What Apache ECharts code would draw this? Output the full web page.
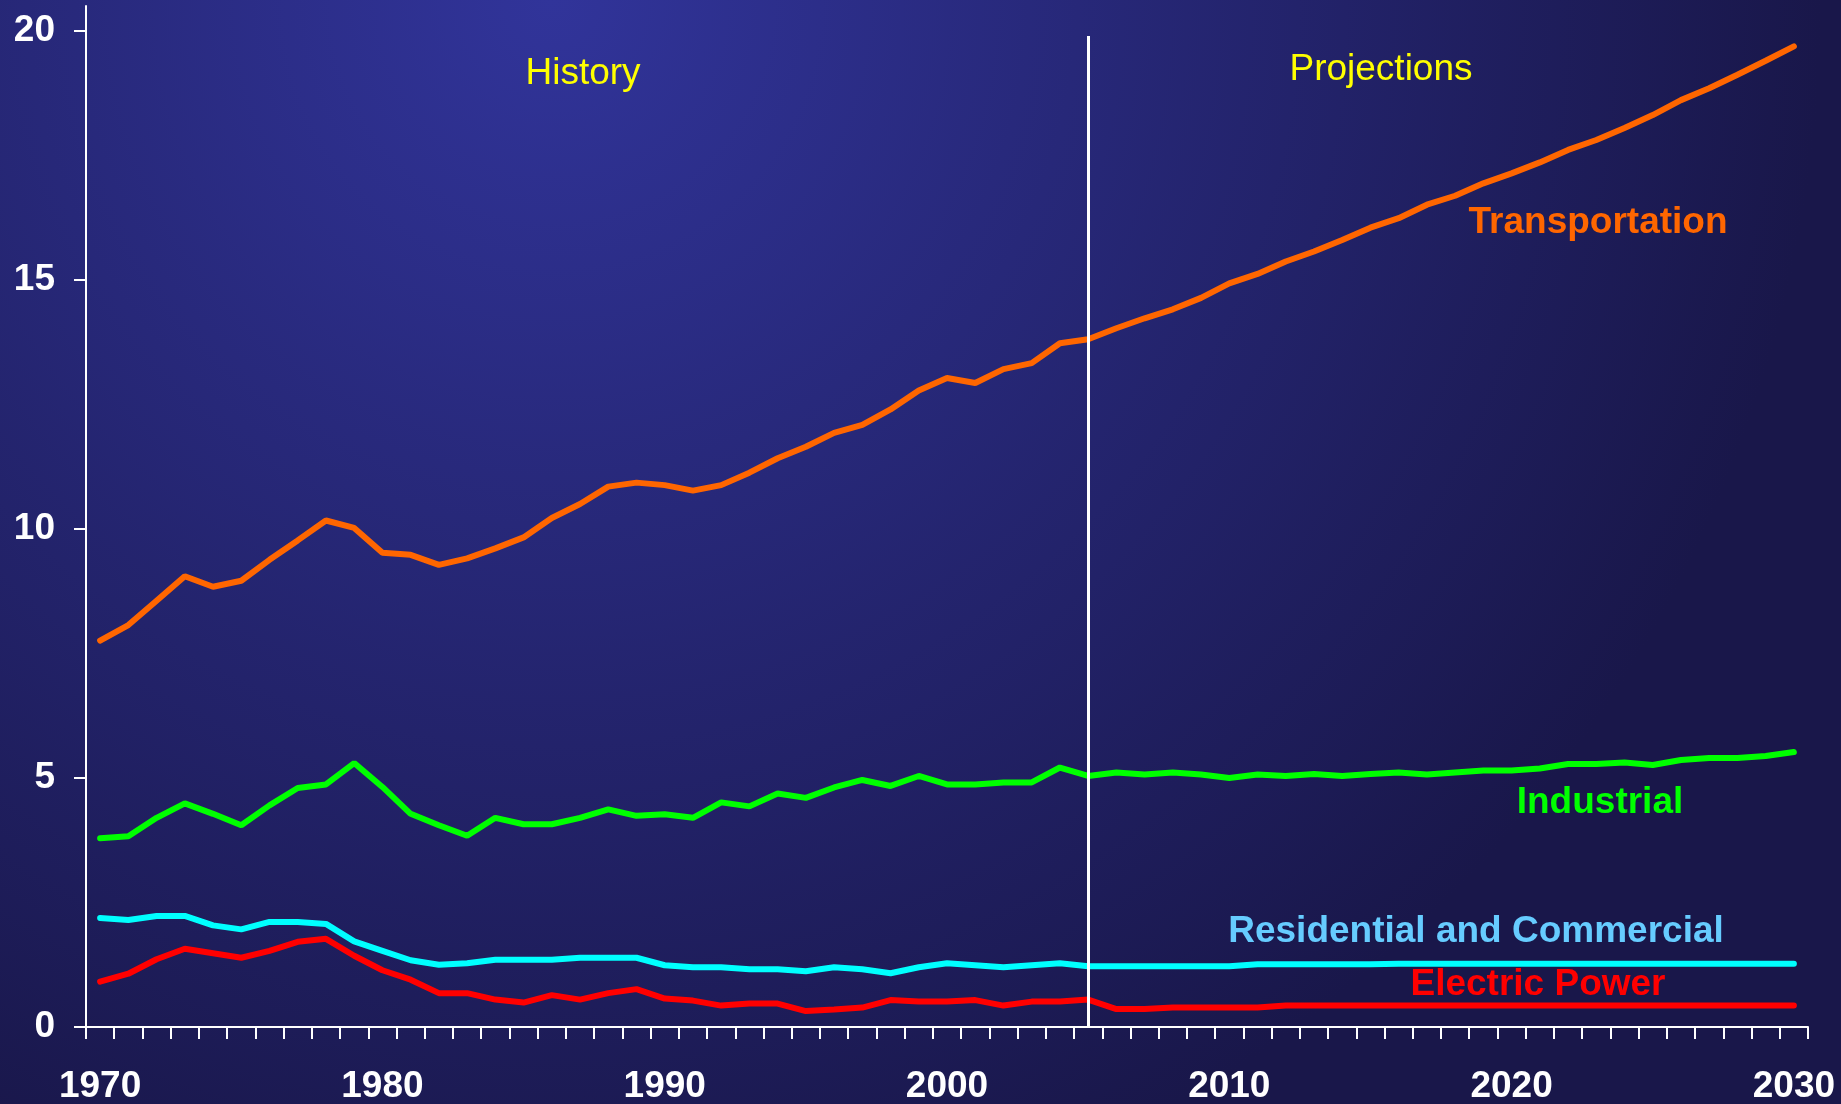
<!DOCTYPE html>
<html lang="en">
<head>
    <meta charset="UTF-8">
    <title>Energy consumption by sector</title>
    <script src="https://cdn.jsdelivr.net/npm/echarts@6/dist/echarts.min.js"></script>
    <style>
        html, body { margin: 0; padding: 0; }
    </style>
</head>
<body>
<div id="box" style="width: 1841px;height:1104px;"></div>
<script>
    // years on the x axis, one point per year
    var years = ['1970', '1971', '1972', '1973', '1974', '1975', '1976', '1977', '1978', '1979',
        '1980', '1981', '1982', '1983', '1984', '1985', '1986', '1987', '1988', '1989',
        '1990', '1991', '1992', '1993', '1994', '1995', '1996', '1997', '1998', '1999',
        '2000', '2001', '2002', '2003', '2004', '2005', '2006', '2007', '2008', '2009',
        '2010', '2011', '2012', '2013', '2014', '2015', '2016', '2017', '2018', '2019',
        '2020', '2021', '2022', '2023', '2024', '2025', '2026', '2027', '2028', '2029', '2030'];
    var yTicks = [0, 5, 10, 15, 20];
    var splitYear = '2005';

    var transportation = [7.76, 8.07, 8.56, 9.05, 8.84, 8.96, 9.38, 9.77, 10.17, 10.02,
        9.52, 9.48, 9.28, 9.41, 9.61, 9.83, 10.22, 10.50, 10.85, 10.93,
        10.88, 10.77, 10.88, 11.13, 11.42, 11.65, 11.93, 12.09, 12.40, 12.78,
        13.03, 12.93, 13.21, 13.33, 13.73, 13.81, 14.03, 14.23, 14.41, 14.64,
        14.93, 15.12, 15.37, 15.57, 15.80, 16.05, 16.24, 16.51, 16.69, 16.94,
        17.14, 17.36, 17.61, 17.81, 18.05, 18.31, 18.61, 18.85, 19.12, 19.40, 19.69];
    var industrial = [3.79, 3.83, 4.20, 4.49, 4.28, 4.05, 4.45, 4.80, 4.87, 5.30,
        4.82, 4.28, 4.05, 3.84, 4.20, 4.07, 4.07, 4.20, 4.37, 4.24,
        4.27, 4.20, 4.51, 4.43, 4.69, 4.60, 4.81, 4.96, 4.84, 5.04,
        4.87, 4.87, 4.91, 4.91, 5.21, 5.04, 5.11, 5.07, 5.11, 5.07,
        5.00, 5.07, 5.04, 5.08, 5.04, 5.08, 5.11, 5.07, 5.11, 5.15,
        5.15, 5.19, 5.28, 5.28, 5.31, 5.26, 5.36, 5.40, 5.40, 5.44, 5.52];
    var resComm = [2.19, 2.15, 2.23, 2.23, 2.04, 1.96, 2.11, 2.11, 2.07, 1.72,
        1.53, 1.34, 1.25, 1.28, 1.35, 1.35, 1.35, 1.39, 1.39, 1.39,
        1.24, 1.20, 1.20, 1.16, 1.16, 1.12, 1.20, 1.16, 1.08, 1.20,
        1.28, 1.24, 1.20, 1.24, 1.28, 1.22, 1.22, 1.22, 1.22, 1.22,
        1.22, 1.26, 1.26, 1.26, 1.26, 1.26, 1.27, 1.27, 1.27, 1.27,
        1.27, 1.27, 1.27, 1.27, 1.27, 1.27, 1.27, 1.27, 1.27, 1.27, 1.27];
    var electric = [0.91, 1.07, 1.36, 1.57, 1.48, 1.39, 1.53, 1.71, 1.77, 1.43,
        1.14, 0.95, 0.68, 0.68, 0.55, 0.49, 0.64, 0.55, 0.68, 0.76,
        0.57, 0.53, 0.43, 0.47, 0.47, 0.32, 0.35, 0.39, 0.54, 0.51,
        0.51, 0.54, 0.43, 0.51, 0.51, 0.55, 0.36, 0.36, 0.39, 0.39,
        0.39, 0.39, 0.43, 0.43, 0.43, 0.43, 0.43, 0.43, 0.43, 0.43,
        0.43, 0.43, 0.43, 0.43, 0.43, 0.43, 0.43, 0.43, 0.43, 0.43, 0.43];

    var font = 'Liberation Sans, Arial, sans-serif';

    function lineSeries(name, data, color) {
        return {
            name: name,
            type: 'line',
            data: data,
            symbol: 'none',
            silent: true,
            lineStyle: {color: color, width: 6, cap: 'round'}
        };
    }

    function note(text, x, y, color, bold) {
        return {
            type: 'text', x: x, y: y, silent: true,
            style: {
                text: text, fill: color, font: (bold ? 'bold ' : '') + '37px ' + font,
                textAlign: 'center', textVerticalAlign: 'middle'
            }
        };
    }

    var myChart = echarts.init(document.getElementById('box'));
    var series = [
        lineSeries('Transportation', transportation, '#ff6600'),
        lineSeries('Industrial', industrial, '#00ff00'),
        lineSeries('Residential and Commercial', resComm, '#00ffff'),
        lineSeries('Electric Power', electric, '#ff0000')
    ];
    // white divider between history and projections
    series[3].markLine = {
        silent: true,
        symbol: 'none',
        label: {show: false},
        lineStyle: {color: '#ffffff', width: 3, type: 'solid'},
        z: 10,
        data: [[{coord: [splitYear, 0]}, {coord: [splitYear, 19.9]}]]
    };

    var option = {
        animation: false,
        backgroundColor: {
            type: 'radial', x: 0.3, y: 0, r: 1.15,
            colorStops: [{offset: 0, color: '#31349a'}, {offset: 1, color: '#19174a'}]
        },
        grid: {left: 86, right: 33, top: 6, bottom: 77, containLabel: false, outerBoundsMode: 'none'},
        xAxis: {
            type: 'category',
            data: years,
            boundaryGap: true,
            axisLine: {lineStyle: {color: '#ffffff', width: 2}},
            axisTick: {show: true, interval: 0, length: 12, lineStyle: {color: '#ffffff', width: 2}},
            axisLabel: {
                interval: 9, margin: 41, color: '#ffffff',
                fontSize: 37, fontWeight: 'bold', fontFamily: font
            },
            splitLine: {show: false}
        },
        yAxis: {
            type: 'value',
            min: 0,
            max: 20.5,
            axisLine: {show: true, lineStyle: {color: '#ffffff', width: 2}},
            axisTick: {show: true, length: 12, customValues: yTicks, lineStyle: {color: '#ffffff', width: 2}},
            axisLabel: {
                customValues: yTicks, margin: 31, color: '#ffffff',
                fontSize: 37, fontWeight: 'bold', fontFamily: font
            },
            splitLine: {show: false}
        },
        graphic: [
            note('History', 583, 74, '#ffff00', false),
            note('Projections', 1381, 70, '#ffff00', false),
            note('Transportation', 1598, 223, '#ff6600', true),
            note('Industrial', 1600, 803, '#00ff00', true),
            note('Residential and Commercial', 1476, 932, '#66ccff', true),
            note('Electric Power', 1538, 985, '#ff0000', true)
        ],
        series: series
    };
    myChart.setOption(option);
</script>
</body>
</html>
